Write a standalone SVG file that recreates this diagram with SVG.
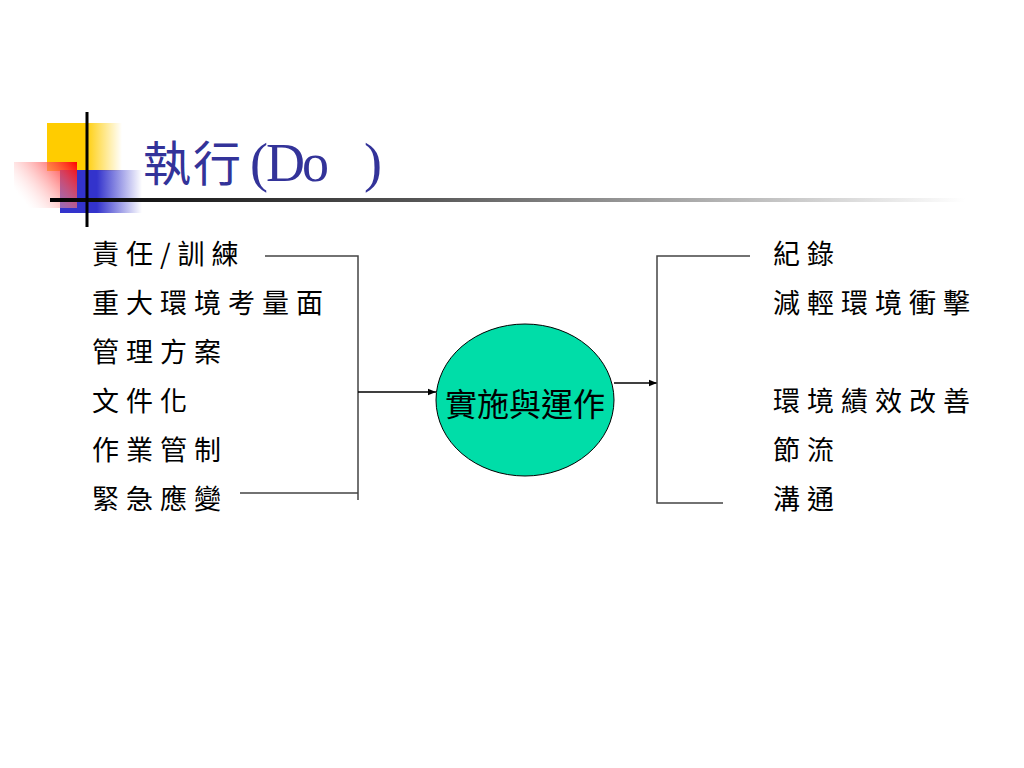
<svg xmlns="http://www.w3.org/2000/svg" width="1024" height="768" viewBox="0 0 1024 768">
<defs>
<linearGradient id="gy" x1="0" y1="0" x2="1" y2="0"><stop offset="0" stop-color="#FFCC00"/><stop offset="0.5" stop-color="#FFCC00"/><stop offset="1" stop-color="#FFCC00" stop-opacity="0"/></linearGradient>
<linearGradient id="gb" x1="0" y1="0" x2="1" y2="0"><stop offset="0" stop-color="#3333CC"/><stop offset="0.45" stop-color="#3333CC"/><stop offset="1" stop-color="#3333CC" stop-opacity="0"/></linearGradient>
<linearGradient id="gr" x1="1" y1="0" x2="0" y2="0.6"><stop offset="0" stop-color="#FF0000"/><stop offset="1" stop-color="#FFFFFF" stop-opacity="0.2"/></linearGradient>
<linearGradient id="gl" x1="0" y1="0" x2="1" y2="0"><stop offset="0" stop-color="#000000"/><stop offset="0.4" stop-color="#555555"/><stop offset="1" stop-color="#FFFFFF"/></linearGradient>
<marker id="ah" viewBox="0 0 10 10" refX="10" refY="5" markerWidth="8" markerHeight="8" markerUnits="userSpaceOnUse" orient="auto"><path d="M0,1 L10,5 L0,9 Z" fill="#000"/></marker>
<style>
.t{font-family:"Noto Sans CJK TC","Noto Sans CJK SC",sans-serif;font-size:27px;fill:#000;letter-spacing:7px}
.c{stroke:#444;stroke-width:1.5;fill:none}
.a{stroke:#000;stroke-width:1.5;fill:none;marker-end:url(#ah)}
</style>
</defs>
<rect width="1024" height="768" fill="#fff"/>
<g id="decor">
<rect x="47" y="123" width="75" height="48" fill="url(#gy)"/>
<rect x="60" y="170" width="82" height="43" fill="url(#gb)"/>
<rect x="14" y="162" width="63" height="46" fill="url(#gr)"/>
<rect x="50" y="198" width="915" height="4" fill="url(#gl)"/>
<rect x="85.5" y="112" width="3" height="115" fill="#000"/>
</g>
<text id="title" x="143" y="181" font-family="Noto Sans CJK TC, sans-serif" font-size="48" fill="#333399" letter-spacing="2">執行<tspan x="250 266 302 364" font-family="Liberation Serif, serif" font-size="54" letter-spacing="0">(Do)</tspan></text>
<g id="left-items">
<text class="t" x="92" y="264">責任/訓練</text>
<text class="t" x="92" y="313">重大環境考量面</text>
<text class="t" x="92" y="362">管理方案</text>
<text class="t" x="92" y="411">文件化</text>
<text class="t" x="92" y="460">作業管制</text>
<text class="t" x="92" y="509">緊急應變</text>
</g>
<g id="center">
<ellipse cx="525" cy="400" rx="89" ry="76" fill="#00DDA8" stroke="#000" stroke-width="1"/>
<text x="525" y="416" text-anchor="middle" font-family="Noto Sans CJK TC, sans-serif" font-size="32" fill="#000">實施與運作</text>
</g>
<g id="right-items">
<text class="t" x="773" y="264">紀錄</text>
<text class="t" x="773" y="313">減輕環境衝擊</text>
<text class="t" x="773" y="411">環境績效改善</text>
<text class="t" x="773" y="460">節流</text>
<text class="t" x="773" y="509">溝通</text>
</g>
<g id="connectors">
<path class="c" d="M265,256 H358 V500 M240,493 H358"/>
<path class="a" d="M358,392 H436"/>
<path class="a" d="M614,383 H657"/>
<path class="c" d="M750,256 H657 V503 H723"/>
</g>
</svg>
